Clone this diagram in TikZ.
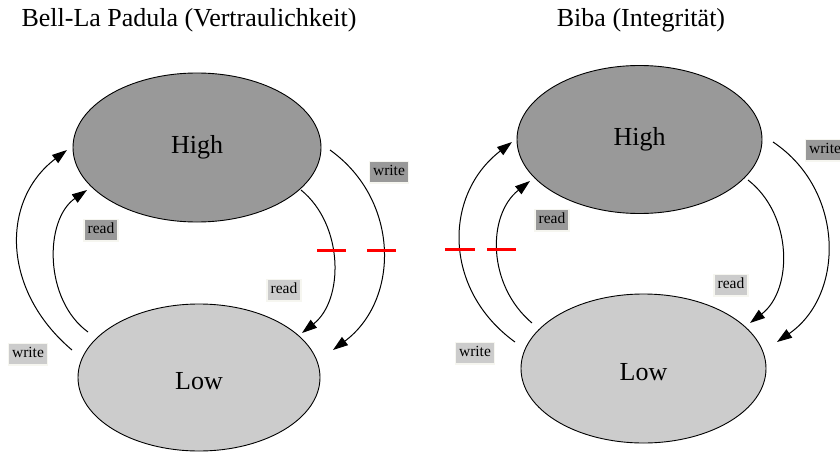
\documentclass[tikz,border=0pt]{standalone}
\usepackage{fontspec}
\setmainfont{Liberation Serif}
\usetikzlibrary{shapes.geometric,arrows.meta,positioning}

\begin{document}
\begin{tikzpicture}[x=1pt,y=-1pt,
  level/.style={ellipse,draw,line width=0.9pt,inner sep=0pt,font=\fontsize{26}{30}\selectfont},
  high/.style={level,fill=black!40},
  low/.style={level,fill=black!20},
  lbl/.style={draw={rgb,255:red,246;green,246;blue,240},line width=1.5pt,inner xsep=3.5pt,inner ysep=3.5pt,
              text height=11pt,text depth=3.5pt,font=\fontsize{15.5}{18}\selectfont},
  lbldark/.style={lbl,fill=black!40},
  lbllight/.style={lbl,fill=black!20},
  flow/.style={line width=1pt,-{Triangle[length=15pt,width=10pt]}},
  cut/.style={red,line width=3pt}]
\useasboundingbox (0,0) rectangle (840,452);

% Titles
    \node[anchor=base,font=\fontsize{26}{30}\selectfont] (blptitle) at (189,27) {Bell-La Padula (Vertraulichkeit)};
    \node[anchor=base,font=\fontsize{26}{30}\selectfont] (bibatitle) at (641,27) {Biba (Integrität)};

% BELL-LA PADULA
    \node[high,minimum width=248pt,minimum height=149pt] (blphigh) at (197,147.5) {High};
    \node[low,minimum width=242pt,minimum height=147pt] (blplow) at (199,377.5) {\raisebox{-3.5pt}[\height][\depth]{Low}};

    \coordinate (blpwa) at (72,350);   \coordinate (blpwb) at (67,150);
    \coordinate (blpra) at (88,332);   \coordinate (blprb) at (87,190);
    \coordinate (blpdra) at (301,190); \coordinate (blpdrb) at (302,333);
    \coordinate (blpdwa) at (330,150); \coordinate (blpdwb) at (333,350);

    \draw[flow] (blpwa) .. controls (1,290) and (1,200) .. (blpwb);
    \draw[flow] (blpra) .. controls (44,300) and (44,220) .. (blprb);
    \draw[flow] (blpdra) .. controls (344,225) and (344,300) .. (blpdrb);
    \draw[flow] (blpdwa) .. controls (400,200) and (400,300) .. (blpdwb);

    \node[lbllight] (blpwl) at (28,354) {write};
    \node[lbldark] (blprl) at (101,230) {read};
    \node[lbllight] (blpdrl) at (284,290) {read};
    \node[lbldark] (blpdwl) at (389,172) {write};

    % forbidden flows
    \draw[cut] (317,250) -- (346,250);
    \draw[cut] (367,250) -- (396,250);

% BIBA
    \node[high,minimum width=245pt,minimum height=148pt] (bibahigh) at (639.5,139.5) {High};
    \node[low,minimum width=245pt,minimum height=149pt] (bibalow) at (643.5,368.5) {\raisebox{-3.5pt}[\height][\depth]{Low}};

    \coordinate (bibawa) at (515,342);  \coordinate (bibawb) at (512,142);
    \coordinate (bibara) at (532,323);  \coordinate (bibarb) at (530,181);
    \coordinate (bibadra) at (748,180); \coordinate (bibadrb) at (750,323);
    \coordinate (bibadwa) at (773,142); \coordinate (bibadwb) at (777,342);

    \draw[flow] (bibawa) .. controls (443,290) and (443,195) .. (bibawb);
    \draw[flow] (bibara) .. controls (487,285) and (487,215) .. (bibarb);
    \draw[flow] (bibadra) .. controls (793,215) and (793,290) .. (bibadrb);
    \draw[flow] (bibadwa) .. controls (845,190) and (845,295) .. (bibadwb);

    \node[lbllight] (bibawl) at (475,353) {write};
    \node[lbldark] (bibarl) at (552,220) {read};
    \node[lbllight] (bibadrl) at (731,285) {read};
    \node[lbldark] (bibadwl) at (825,150) {write};

    % forbidden flows
    \draw[cut] (445,249) -- (475,249);
    \draw[cut] (487,249) -- (516,249);
\end{tikzpicture}
\end{document}
